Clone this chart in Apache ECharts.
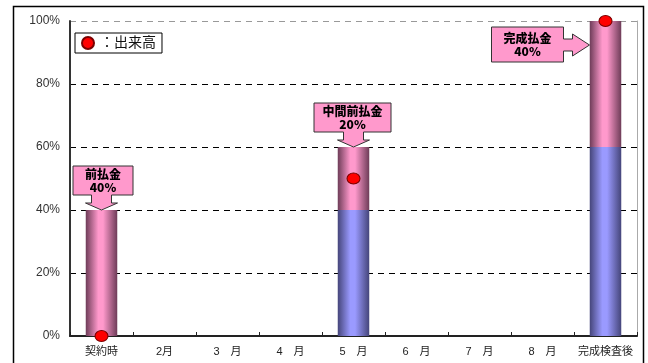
<!DOCTYPE html>
<html>
<head>
<meta charset="utf-8">
<script src="https://cdn.jsdelivr.net/npm/echarts@6/dist/echarts.min.js"></script>
<style>
html,body{margin:0;padding:0;background:#fff;}
#chart{width:648px;height:363px;}
</style>
</head>
<body>
<div id="chart"></div>
<script>
// Payment schedule: cumulative payment (stacked bars) and progress (red dots)
const categories = ['契約時', '2月', '3　月', '4　月', '5　月', '6　月', '7　月', '8　月', '完成検査後'];
const basePaid = [0, 0, 0, 0, 40, 0, 0, 0, 60];      // already paid before the step
const stepPaid = [40, 0, 0, 0, 20, 0, 0, 0, 40];     // paid at the step
const progress = [[0, 0], [4, 50], [8, 100]];         // 出来高
const yTicks = [0, 20, 40, 60, 80, 100];
const callouts = [
  { idx: 0, top: 40, lines: ['前払金', '40%'], dir: 'down' },
  { idx: 4, top: 60, lines: ['中間前払金', '20%'], dir: 'down' },
  { idx: 8, top: 100, lines: ['完成払金', '40%'], dir: 'right' }
];

const JP = '"Liberation Sans", "Noto Sans CJK JP", sans-serif';

function barGradient(dark, light) {
  return new echarts.graphic.LinearGradient(0, 0, 1, 0, [
    { offset: 0, color: dark },
    { offset: 0.4, color: light },
    { offset: 0.55, color: light },
    { offset: 1, color: dark }
  ]);
}

const chart = echarts.init(document.getElementById('chart'));

chart.setOption({
  animation: false,
  backgroundColor: '#fff',
  grid: { left: 70, right: 11, top: 21, bottom: 27 },
  legend: {
    data: ['出来高'],
    left: 75, top: 33,
    orient: 'horizontal',
    itemWidth: 14, itemHeight: 12,
    padding: [3, 6, 3, 6],
    itemGap: 2,
    borderColor: '#000', borderWidth: 1, borderRadius: 0,
    backgroundColor: '#fff',
    formatter: '：{name}',
    textStyle: { fontFamily: JP, fontSize: 14, color: '#111' }
  },
  xAxis: {
    type: 'category',
    data: categories,
    boundaryGap: true,
    axisLine: { lineStyle: { color: '#222', width: 2 } },
    axisTick: { show: true, inside: true, length: 4, lineStyle: { color: '#222' } },
    axisLabel: { interval: 0, fontFamily: JP, fontSize: 11, color: '#222', margin: 10 }
  },
  yAxis: [{
    type: 'value',
    min: 0, max: 100, interval: 20,
    axisLine: { show: true, lineStyle: { color: '#333', width: 2 } },
    axisTick: { show: false },
    axisLabel: { formatter: '{value}%', fontFamily: JP, fontSize: 12, color: '#333', margin: 10 },
    splitLine: { lineStyle: { type: [6, 5], color: ['#000', '#000', '#000', '#000', '#000', '#999'], width: 1 } }
  }, {
    type: 'value', position: 'right',
    min: 0, max: 100, interval: 20,
    axisLine: { show: true, lineStyle: { color: '#aaa', width: 1 } },
    axisTick: { show: false }, axisLabel: { show: false }, splitLine: { show: false }
  }],
  series: [
    {
      type: 'bar', name: 'base', stack: 'pay', barWidth: '50%',
      data: basePaid,
      itemStyle: { color: barGradient('#45457a', '#9a9aff') }
    },
    {
      type: 'bar', name: 'step', stack: 'pay', barWidth: '50%',
      data: stepPaid,
      itemStyle: { color: barGradient('#6e3c58', '#ff99cc') }
    },
    {
      type: 'scatter', name: '出来高',
      data: progress,
      symbol: 'circle', symbolSize: [13, 11],
      clip: false, z: 10,
      itemStyle: { color: '#ff0000', borderColor: '#7a0000', borderWidth: 1, opacity: 1 }
    }
  ]
});

// Callout arrows pointing at the top of each payment step
function calloutShape(c) {
  const tip = chart.convertToPixel({ xAxisIndex: 0, yAxisIndex: 0 }, [c.idx, c.top]);
  const tx = tip[0], ty = tip[1];
  let box, pts;
  if (c.dir === 'down') {
    const wide = c.lines[0].length > 3;
    const w = wide ? 77 : 60, h = 29;
    const x0 = tx - w / 2 + (wide ? -1 : 1.5), y1 = ty - 15, y0 = y1 - h;
    const hy = ty - 7;
    pts = [[x0, y0], [x0 + w, y0], [x0 + w, y1], [tx + 10, y1], [tx + 10, hy], [tx + 16, hy],
           [tx, ty], [tx - 16, hy], [tx - 10, hy], [tx - 10, y1], [x0, y1]];
    box = { x: x0, y: y0, w: w, h: h };
  } else {
    const barHalf = 16;
    const tipX = tx - barHalf, tipY = ty + 24;
    const w = 72, h = 35;
    const x1 = tipX - 26, x0 = x1 - w, y0 = tipY - 18, y1 = y0 + h;
    const hx = tipX - 17;
    pts = [[x0, y0], [x1, y0], [x1, tipY - 6], [hx, tipY - 6], [hx, tipY - 11], [tipX, tipY],
           [hx, tipY + 11], [hx, tipY + 6], [x1, tipY + 6], [x1, y1], [x0, y1]];
    box = { x: x0, y: y0, w: w, h: h };
  }
  return [
    {
      type: 'polygon', z: 20,
      shape: { points: pts },
      style: { fill: '#ff99cc', stroke: '#333', lineWidth: 1 }
    },
    {
      type: 'text', z: 21,
      x: box.x + box.w / 2, y: box.y + box.h / 2,
      style: {
        text: c.lines.join('\n'), align: 'center', verticalAlign: 'middle',
        fontFamily: '"Noto Sans CJK JP", sans-serif', fontWeight: 900, fontSize: 12,
        lineHeight: 13, fill: '#000'
      }
    }
  ];
}

const elements = [{
  type: 'rect', z: 0, silent: true,
  shape: { x: 13.5, y: 6.5, width: 630, height: 370 },
  style: { fill: null, stroke: '#000', lineWidth: 1.5 }
}];
callouts.forEach(c => elements.push(...calloutShape(c)));
chart.setOption({ graphic: { elements: elements } });
</script>
</body>
</html>
